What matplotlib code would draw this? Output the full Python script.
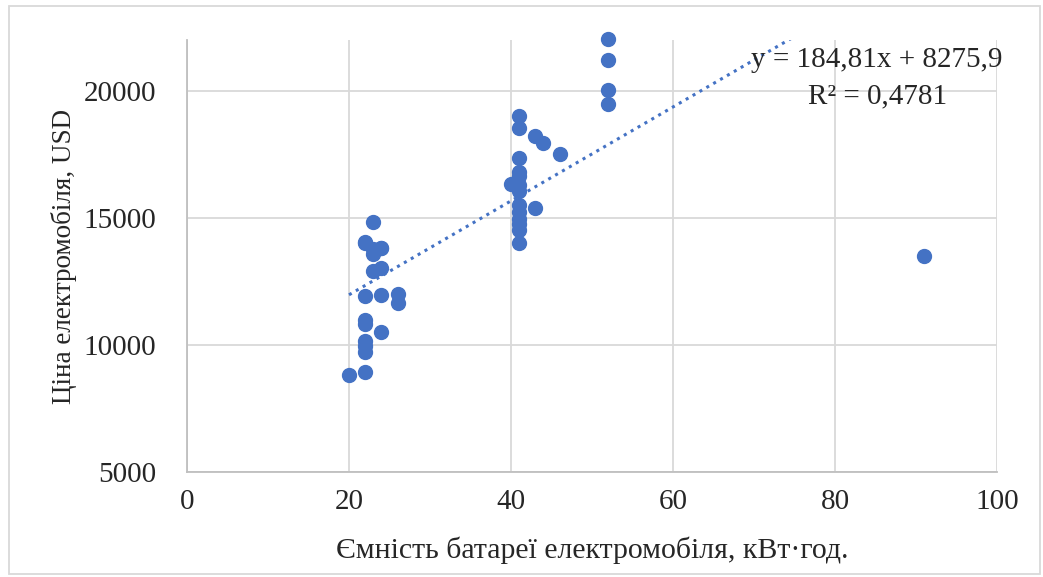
import matplotlib
matplotlib.use("Agg")
import matplotlib.pyplot as plt
from matplotlib.patches import Rectangle

# Battery capacity (kWh) and price (USD) of electric vehicles
capacity = [20, 22, 22, 22, 22, 22, 22, 22, 22, 23, 23, 23, 23, 24, 24, 24, 24, 26, 26,
            22, 24,
            41, 41, 43, 44, 46, 41, 41, 41, 40, 41, 41, 41, 43, 41, 41, 41, 41, 41,
            52, 52, 52, 52, 91]
price = [8800, 8920, 9710, 9950, 10140, 10820, 11000, 11925, 14060, 14850, 13780, 13590, 12910,
         13820, 13030, 11960, 10500, 12000, 11650,
         14020, 13800,
         19010, 18530, 18220, 17940, 17500, 17350, 16790, 16630, 16320, 16280, 16040, 15490,
         15370, 15250, 14970, 14770, 14540, 14020,
         22020, 21220, 20040, 19480, 13510]

# Linear trend reported on the chart
slope = 184.81
intercept = 8275.9
trend_x = [min(capacity), max(capacity)]
trend_y = [slope * x + intercept for x in trend_x]

x_ticks = [0, 20, 40, 60, 80, 100]
y_ticks = [5000, 10000, 15000, 20000]

plt.rcParams['font.family'] = ['Liberation Serif', 'DejaVu Serif']

fig = plt.figure(figsize=(10.43, 5.77), dpi=100)
ax = fig.add_axes([0.1793, 0.182, 0.9559 - 0.1793, 0.9307 - 0.182])

ax.set_xlim(0, 100)
ax.set_ylim(5000, 22000)
ax.set_xticks(x_ticks)
ax.set_yticks(y_ticks)
ax.set_xticklabels([str(t) for t in x_ticks])
ax.set_yticklabels([str(t) for t in y_ticks])

grid_col = '#D9D9D9'
ax.grid(True, color=grid_col, linewidth=1.3)
ax.set_axisbelow(True)
for side in ['top', 'right']:
    ax.spines[side].set_visible(False)
for side in ['left', 'bottom']:
    ax.spines[side].set_color('#BFBFBF')
    ax.spines[side].set_linewidth(1.3)
ax.tick_params(length=0, labelsize=21, colors='#262626')
ax.tick_params(axis='x', pad=12)
ax.tick_params(axis='y', pad=22)

ax.plot(trend_x, trend_y, linestyle=(0, (1, 1.6)), color='#4472C4', linewidth=2.2,
        zorder=2, clip_on=True)
ax.plot(capacity, price, 'o', color='#4472C4', markersize=10, zorder=3, clip_on=False)

ax.text(0.852, 0.954, 'y = 184,81x + 8275,9', transform=ax.transAxes, ha='center',
        va='center', fontsize=21, color='#262626')
ax.text(0.852, 0.870, 'R² = 0,4781', transform=ax.transAxes, ha='center',
        va='center', fontsize=21, color='#262626')

ax.set_xlabel('Ємність батареї електромобіля, кВт·год.', fontsize=21.5, color='#262626',
              labelpad=16)
ax.set_ylabel('Ціна електромобіля, USD', fontsize=19.5, color='#262626', labelpad=5)

fig.patches.append(Rectangle((0.009, 0.005), 0.988, 0.985, transform=fig.transFigure,
                             fill=False, edgecolor='#D9D9D9', linewidth=1.3))

fig.savefig('out.png', dpi=100)
